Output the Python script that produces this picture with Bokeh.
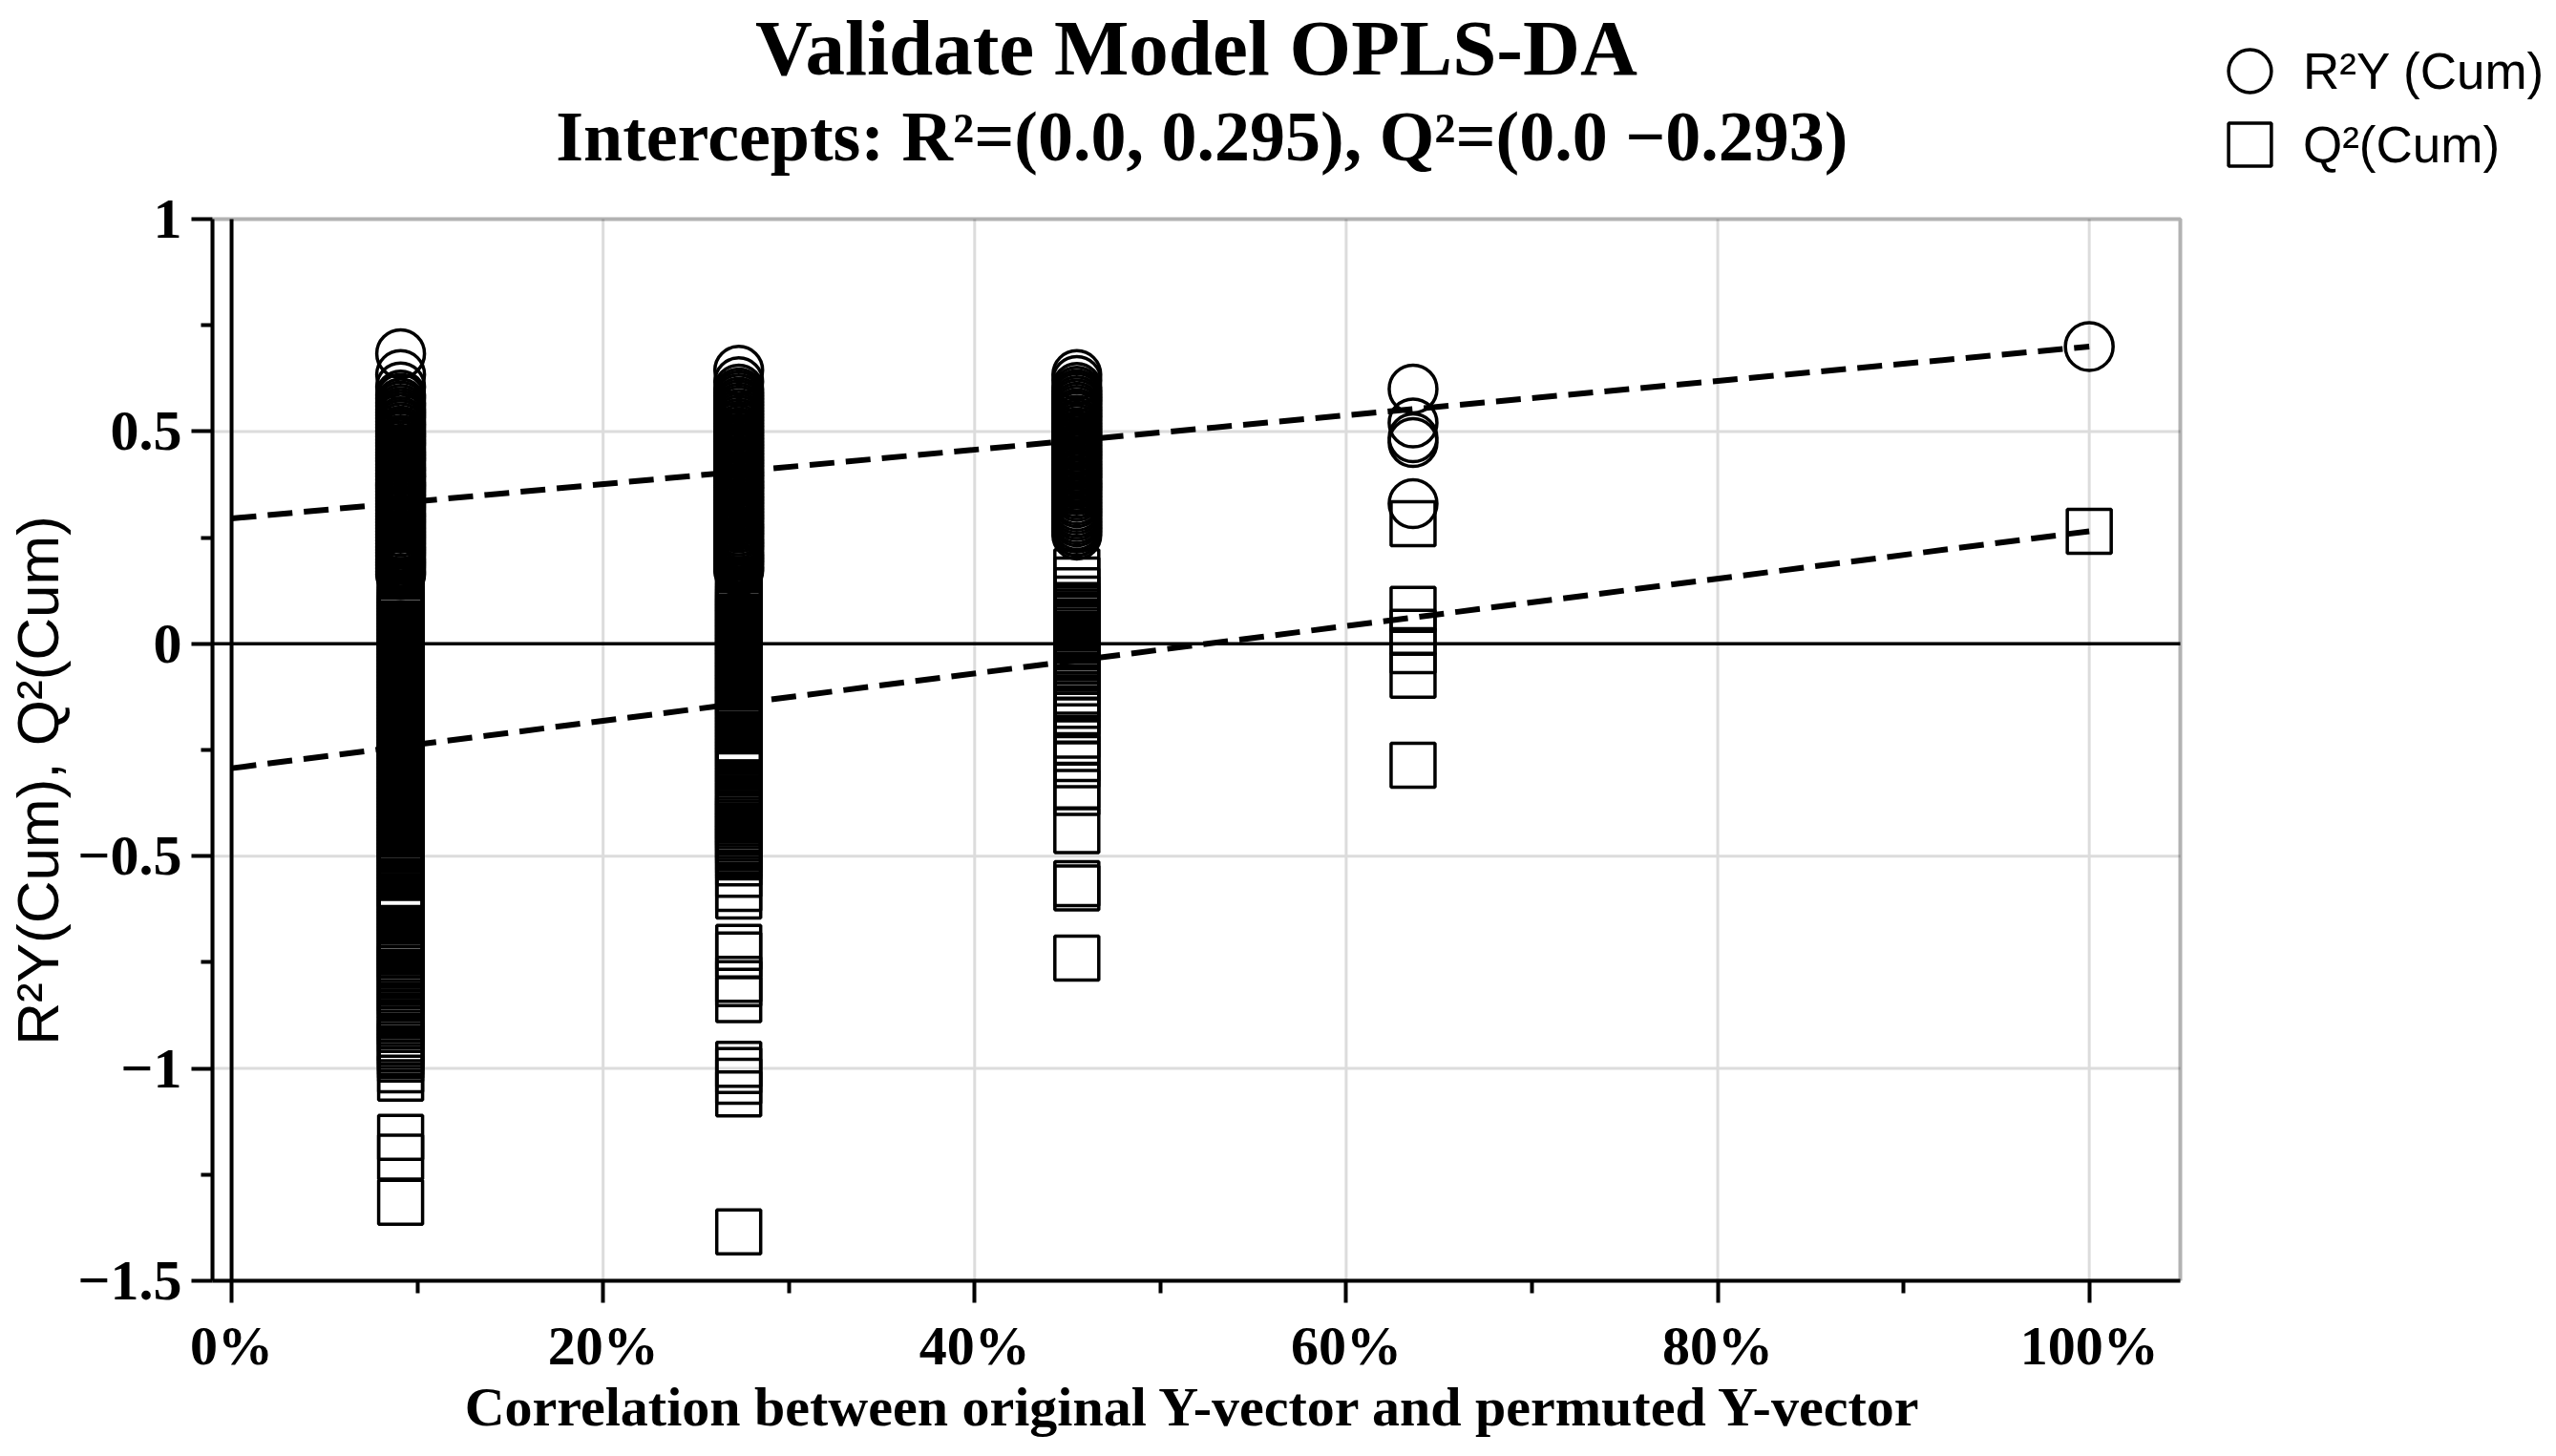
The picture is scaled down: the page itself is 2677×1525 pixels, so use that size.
from bokeh.plotting import figure
from bokeh.models import (ColumnDataSource, Range1d, FixedTicker, Label, BoxAnnotation,
                          Legend, LegendItem, PrintfTickFormatter)
from bokeh.embed import file_html
from bokeh.resources import INLINE

# correlation (%) between original and permuted Y for each permutation column
perm_corr = [9.1, 27.3, 45.5, 63.6, 100.0]

# R2Y(cum) values
r2_c1 = [0.683, 0.634, 0.605, 0.586, 0.578, 0.567, 0.560, 0.552, 0.545, 0.538, 0.531, 0.523,
         0.516, 0.509, 0.501, 0.494, 0.488, 0.480, 0.473, 0.466, 0.458, 0.451, 0.444, 0.437,
         0.430, 0.422, 0.415, 0.409, 0.401, 0.394, 0.387, 0.379, 0.372, 0.365, 0.358, 0.351,
         0.343, 0.336, 0.329, 0.322, 0.315, 0.307, 0.300, 0.293, 0.286, 0.279, 0.272, 0.264,
         0.257, 0.250, 0.243, 0.236, 0.228, 0.221, 0.214, 0.207, 0.199, 0.192, 0.185, 0.178,
         0.170, 0.163]
r2_c2 = [0.644, 0.617, 0.600, 0.591, 0.584, 0.577, 0.569, 0.562, 0.555, 0.548, 0.540, 0.533,
         0.526, 0.519, 0.512, 0.504, 0.497, 0.490, 0.483, 0.475, 0.468, 0.461, 0.454, 0.447,
         0.439, 0.432, 0.425, 0.418, 0.410, 0.403, 0.396, 0.389, 0.382, 0.374, 0.367, 0.360,
         0.353, 0.345, 0.338, 0.331, 0.324, 0.317, 0.309, 0.302, 0.295, 0.288, 0.280, 0.273,
         0.266, 0.259, 0.252, 0.244, 0.237, 0.230, 0.223, 0.215, 0.208, 0.201, 0.194, 0.187,
         0.179, 0.172]
r2_c3 = [0.634, 0.620, 0.604, 0.595, 0.587, 0.580, 0.572, 0.565, 0.557, 0.550, 0.542, 0.535,
         0.527, 0.519, 0.512, 0.505, 0.497, 0.489, 0.482, 0.474, 0.467, 0.459, 0.452, 0.444,
         0.437, 0.429, 0.422, 0.414, 0.407, 0.399, 0.392, 0.384, 0.377, 0.369, 0.362, 0.354,
         0.347, 0.339, 0.332, 0.324, 0.317, 0.309, 0.302, 0.294, 0.287, 0.279, 0.272, 0.264,
         0.256]
r2_c4 = [0.600, 0.520, 0.485, 0.474, 0.330]
r2_c5 = [0.700]

# Q2(cum) values
q2_c1 = [0.148, 0.141, 0.134, 0.127, 0.119, 0.112, 0.105, 0.098, 0.091, 0.083, 0.076, 0.069,
         0.062, 0.055, 0.047, 0.040, 0.033, 0.026, 0.019, 0.011, 0.004, -0.003, -0.010, -0.017,
         -0.025, -0.032, -0.039, -0.046, -0.053, -0.061, -0.068, -0.075, -0.082, -0.089, -0.097,
         -0.104, -0.111, -0.118, -0.125, -0.133, -0.140, -0.147, -0.154, -0.161, -0.169, -0.176,
         -0.183, -0.190, -0.197, -0.205, -0.212, -0.219, -0.226, -0.233, -0.241, -0.248, -0.255,
         -0.262, -0.269, -0.277, -0.284, -0.291, -0.298, -0.305, -0.313, -0.320, -0.327, -0.334,
         -0.341, -0.349, -0.356, -0.363, -0.370, -0.377, -0.385, -0.392, -0.399, -0.406, -0.413,
         -0.421, -0.428, -0.435, -0.442, -0.449, -0.457, -0.464, -0.471, -0.478, -0.485, -0.493,
         -0.500, -0.507, -0.514, -0.521, -0.529, -0.536, -0.543, -0.550, -0.567, -0.574, -0.581,
         -0.588, -0.595, -0.602, -0.609, -0.616, -0.623, -0.630, -0.637, -0.644, -0.651, -0.676,
         -0.683, -0.690, -0.697, -0.704, -0.711, -0.718, -0.725, -0.733, -0.741, -0.749, -0.757,
         -0.765, -0.773, -0.781, -0.789, -0.797, -0.805, -0.813, -0.821, -0.829, -0.852, -0.860,
         -0.868, -0.876, -0.884, -0.892, -0.900, -0.908, -0.930, -0.938, -0.946, -0.954, -0.962,
         -0.970, -0.978, -1.003, -1.023, -1.162, -1.209, -1.315]
q2_c2 = [0.150, 0.143, 0.136, 0.128, 0.121, 0.114, 0.107, 0.100, 0.092, 0.085, 0.078, 0.071,
         0.063, 0.056, 0.049, 0.042, 0.034, 0.027, 0.020, 0.013, 0.005, -0.002, -0.009, -0.016,
         -0.024, -0.031, -0.038, -0.045, -0.053, -0.060, -0.067, -0.074, -0.082, -0.089, -0.096,
         -0.103, -0.111, -0.118, -0.125, -0.132, -0.140, -0.147, -0.154, -0.161, -0.169, -0.176,
         -0.183, -0.190, -0.198, -0.205, -0.224, -0.231, -0.238, -0.245, -0.253, -0.260, -0.267,
         -0.274, -0.282, -0.289, -0.296, -0.303, -0.328, -0.335, -0.342, -0.350, -0.357, -0.364,
         -0.371, -0.379, -0.386, -0.393, -0.400, -0.408, -0.415, -0.422, -0.429, -0.437, -0.444,
         -0.451, -0.458, -0.466, -0.473, -0.480, -0.487, -0.495, -0.502, -0.516, -0.543, -0.576,
         -0.594, -0.715, -0.733, -0.790, -0.800, -0.838, -0.990, -1.005, -1.030, -1.060, -1.385]
q2_c3 = [0.170, 0.150, 0.125, 0.105, 0.090, 0.082, 0.075, 0.068, 0.060, 0.052, 0.045, 0.038,
         0.030, 0.022, 0.015, 0.008, 0.000, -0.008, -0.016, -0.024, -0.032, -0.040, -0.050,
         -0.058, -0.065, -0.078, -0.092, -0.120, -0.130, -0.145, -0.160, -0.180, -0.215, -0.230,
         -0.270, -0.285, -0.335, -0.350, -0.440, -0.565, -0.575, -0.740]
q2_c4 = [0.283, 0.081, 0.027, -0.016, -0.074, -0.286]
q2_c5 = [0.265]

# regression intercepts at 0 % correlation
r2_intercept = 0.295
q2_intercept = -0.293
intercept_x = 0.0

x_ticks = [0, 20, 40, 60, 80, 100]
x_minor = [10, 30, 50, 70, 90]
y_ticks = [-1.5, -1, -0.5, 0, 0.5, 1]
y_minor = [-1.25, -0.75, -0.25, 0.25, 0.75]
y_tick_labels = ["\u22121.5", "\u22121", "\u22120.5", "0", "0.5", "1"]

title_text = "Validate Model OPLS-DA"
subtitle_text = "Intercepts: R\u00b2=(0.0, 0.295), Q\u00b2=(0.0 \u22120.293)"
legend_labels = ["R\u00b2Y (Cum)", "Q\u00b2(Cum)"]

r2_x, r2_y, q2_x, q2_y = [], [], [], []
for xc, vals in zip(perm_corr, [r2_c1, r2_c2, r2_c3, r2_c4, r2_c5]):
    r2_x += [xc] * len(vals)
    r2_y += vals
for xc, vals in zip(perm_corr, [q2_c1, q2_c2, q2_c3, q2_c4, q2_c5]):
    q2_x += [xc] * len(vals)
    q2_y += vals

r2_src = ColumnDataSource(dict(x=r2_x, y=r2_y))
q2_src = ColumnDataSource(dict(x=q2_x, y=q2_y))

# visible plot box; the frame itself runs on to the top and right edges of the canvas
# so that the titles and the legend can live inside it
X_LO, X_HI, Y_LO, Y_HI = -1.03, 104.9, -1.5, 1.0
W, H = 2670, 1520
LEFT, BOTTOM = 222, 179
BOX_W, BOX_H = 2061, 1112
px_x = BOX_W / (X_HI - X_LO)
px_y = BOX_H / (Y_HI - Y_LO)
x_end = X_LO + (W - LEFT) / px_x
y_end = Y_LO + (H - BOTTOM) / px_y
box_top_px = H - BOTTOM - BOX_H          # canvas y of the box top edge


def y_at(px):
    # data y for a canvas row measured from the top
    return Y_HI + (box_top_px - px) / px_y


p = figure(width=W, height=H, x_range=Range1d(X_LO, x_end), y_range=Range1d(Y_LO, y_end),
           output_backend="svg", toolbar_location=None, title=None,
           min_border_left=LEFT, min_border_right=0, min_border_top=0, min_border_bottom=BOTTOM)
p.background_fill_color = "white"
p.border_fill_color = "white"
p.outline_line_color = None
p.grid.visible = False

xa = p.xaxis[0]
xa.ticker = FixedTicker(ticks=x_ticks, minor_ticks=x_minor)
xa.bounds = (X_LO, X_HI)
xa.formatter = PrintfTickFormatter(format="%d%%")
# trailing no-break spaces re-centre the label under the plot box rather than the wider frame
xa.axis_label = "Correlation between original Y-vector and permuted Y-vector" + "\u00a0" * 27
xa.axis_label_text_font = "Liberation Serif"
xa.axis_label_text_font_style = "bold"
xa.axis_label_text_font_size = "58px"
xa.axis_label_standoff = -4
xa.major_label_standoff = 12
xa.major_tick_out = 23
xa.minor_tick_out = 13

ya = p.yaxis[0]
ya.ticker = FixedTicker(ticks=y_ticks, minor_ticks=y_minor)
ya.bounds = (Y_LO, Y_HI)
ya.major_label_overrides = {str(t): lab for t, lab in zip(y_ticks, y_tick_labels)}
ya.axis_label = "R\u00b2Y(Cum), Q\u00b2(Cum)" + "\u00a0" * 17
ya.axis_label_text_font = "Liberation Sans"
ya.axis_label_text_font_style = "normal"
ya.axis_label_text_font_size = "62px"
ya.axis_label_standoff = 4
ya.major_label_standoff = 10
ya.major_tick_out = 22
ya.minor_tick_out = 12

for ax in (xa, ya):
    ax.axis_line_color = "black"
    ax.axis_line_width = 4
    ax.major_tick_line_color = "black"
    ax.minor_tick_line_color = "black"
    ax.major_tick_line_width = 4
    ax.minor_tick_line_width = 4
    ax.major_tick_in = 0
    ax.minor_tick_in = 0
    ax.major_label_text_font = "Liberation Serif"
    ax.major_label_text_font_style = "bold"
    ax.major_label_text_color = "black"
    ax.axis_label_text_color = "black"
xa.major_label_text_font_size = "58px"
ya.major_label_text_font_size = "60px"

# grid lines inside the box only
gx = [t for t in x_ticks if X_LO < t < X_HI and t != 0]
gy = [t for t in y_ticks if Y_LO < t < Y_HI and t != 0]
p.segment(x0=gx, x1=gx, y0=[Y_LO] * len(gx), y1=[Y_HI] * len(gx), line_color="#dcdcdc", line_width=3)
p.segment(x0=[X_LO] * len(gy), x1=[X_HI] * len(gy), y0=gy, y1=gy, line_color="#dcdcdc", line_width=3)

# zero lines
p.segment(x0=[X_LO], x1=[X_HI], y0=[0], y1=[0], line_color="black", line_width=3.5)
p.segment(x0=[0], x1=[0], y0=[Y_LO], y1=[Y_HI], line_color="black", line_width=4)

circle_style = dict(marker="circle", size=50, line_color="black", line_width=3.5, fill_alpha=0)
square_style = dict(marker="square", size=46, line_color="black", line_width=3.5, fill_alpha=0)
r2_r = p.scatter("x", "y", source=r2_src, **circle_style)
q2_r = p.scatter("x", "y", source=q2_src, **square_style)

p.line([intercept_x, perm_corr[-1]], [r2_intercept, r2_c5[0]], line_color="black",
       line_width=6, line_dash="26 12")
p.line([intercept_x, perm_corr[-1]], [q2_intercept, q2_c5[0]], line_color="black",
       line_width=6, line_dash="26 12")

p.add_layout(BoxAnnotation(left=X_LO, right=X_HI, bottom=Y_LO, top=Y_HI, fill_color=None,
                           fill_alpha=0, line_color="black", line_width=4, level="overlay"))

# titles centred over the plot box (label anchor sits about mid-height of the text)
mid_x = (X_LO + X_HI) / 2
p.add_layout(Label(x=mid_x, y=y_at(49), text=title_text, text_align="center",
                   text_baseline="alphabetic", text_font="Liberation Serif",
                   text_font_style="bold", text_font_size="83px", text_color="black"))
p.add_layout(Label(x=mid_x + 0.3, y=y_at(142), text=subtitle_text, text_align="center",
                   text_baseline="alphabetic", text_font="Liberation Serif",
                   text_font_style="bold", text_font_size="74px", text_color="black"))

# legend entries at the top right, one box each so the markers stay large
frame_bottom = H - BOTTOM
for label, rend, cy in ((legend_labels[0], r2_r, 74), (legend_labels[1], q2_r, 151)):
    p.add_layout(Legend(items=[LegendItem(label=label, renderers=[rend])],
                        location=(2300 - LEFT, frame_bottom - (cy + 56)),
                        glyph_width=112, glyph_height=112, label_standoff=0, padding=0,
                        margin=0, border_line_color=None, background_fill_alpha=0,
                        label_text_font="Liberation Sans", label_text_font_size="53px",
                        label_text_color="black"))

open("out.html", "w").write(file_html(p, INLINE))
